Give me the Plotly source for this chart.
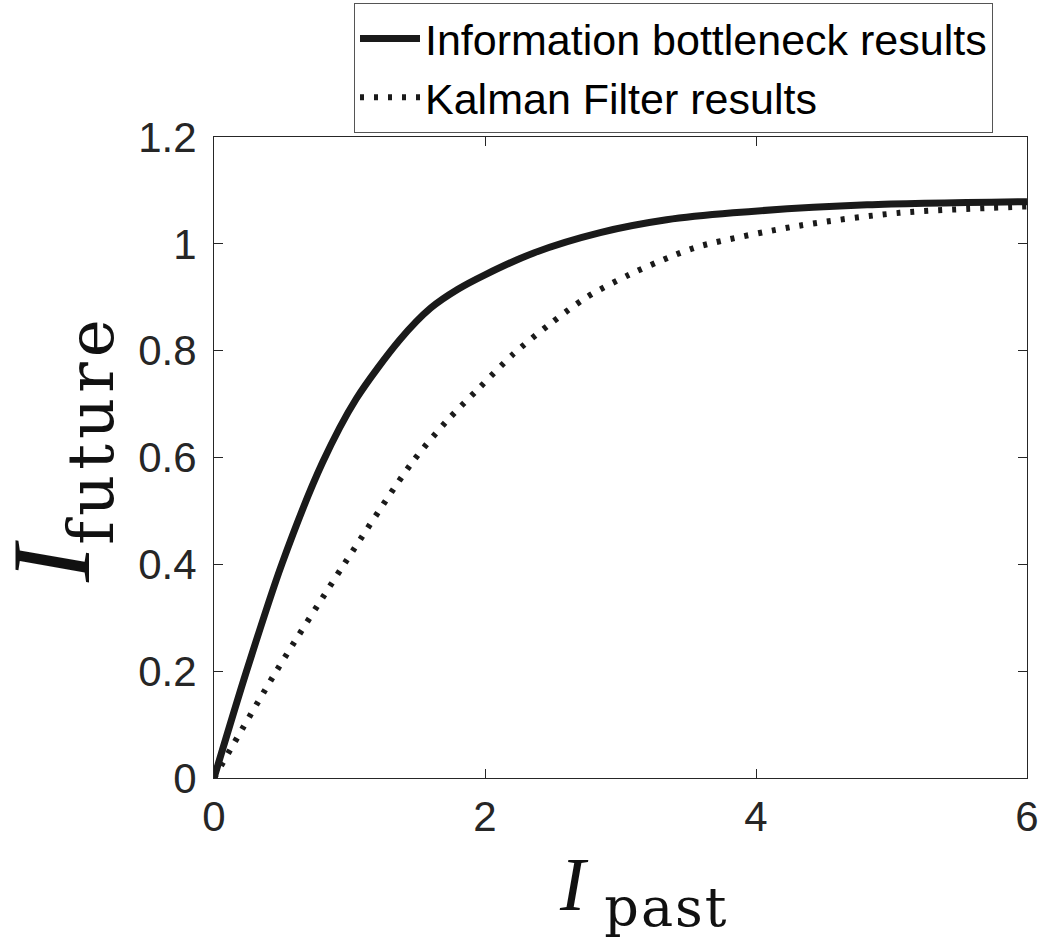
import plotly.graph_objects as go

# Information bottleneck curve: I_future as a function of I_past
ib_past = [0, 0.24, 0.50, 0.80, 1.05, 1.37, 1.60, 1.80, 2.00, 2.36, 2.85, 3.34, 3.83, 4.82, 6.0]
ib_future = [0, 0.20, 0.40, 0.59, 0.71, 0.82, 0.88, 0.915, 0.942, 0.983, 1.021, 1.045, 1.058, 1.073, 1.079]

# Kalman filter curve
kf_past = [0, 0.46, 0.96, 1.46, 1.72, 1.96, 2.21, 2.48, 2.75, 3.07, 3.39, 3.59, 4.32, 5.06, 6.0]
kf_future = [0, 0.20, 0.40, 0.59, 0.669, 0.731, 0.794, 0.850, 0.900, 0.943, 0.978, 0.996, 1.034, 1.058, 1.070]

x_ticks = [0, 2, 4, 6]
y_ticks = [0, 0.2, 0.4, 0.6, 0.8, 1.0, 1.2]
y_tick_text = ["0", "0.2", "0.4", "0.6", "0.8", "1", "1.2"]

ink = "#262626"
sans = "Liberation Sans, Arial, sans-serif"
serif = "Liberation Serif, Times New Roman, serif"

fig = go.Figure()
fig.add_trace(go.Scatter(
    x=ib_past, y=ib_future, mode="lines",
    name="Information bottleneck results",
    line=dict(color="#1a1a1a", width=7, shape="spline", smoothing=0.8),
))
fig.add_trace(go.Scatter(
    x=kf_past, y=kf_future, mode="lines",
    name="Kalman Filter results",
    line=dict(color="#1a1a1a", width=6, dash="4px,10px", shape="spline", smoothing=0.8),
))

axis_common = dict(
    showgrid=False, zeroline=False,
    showline=True, linecolor=ink, linewidth=1,
    mirror="ticks", ticks="inside", ticklen=9, tickwidth=1, tickcolor=ink,
    tickfont=dict(family=sans, size=42, color=ink),
)

fig.update_xaxes(range=[0, 6], tickvals=x_ticks, ticktext=[str(v) for v in x_ticks],
                 ticklabelstandoff=2, **axis_common)
fig.update_yaxes(range=[0, 1.2], tickvals=y_ticks, ticktext=y_tick_text,
                 ticklabelstandoff=8, **axis_common)

# Axis titles in math style: italic I with upright subscript
fig.add_annotation(
    text=("<i>I</i> <sub><span style='font-family:DejaVu Serif;font-size:54px;"
          "letter-spacing:2px'>past</span></sub>"),
    xref="paper", yref="paper", x=(644 - 214) / 813, y=(778 - 890) / 641,
    xanchor="center", yanchor="middle", showarrow=False,
    font=dict(family=serif, size=76, color="#111111"),
)
fig.add_annotation(
    text=("<i>I</i><sub><span style='font-family:DejaVu Serif;font-size:64px;"
          "letter-spacing:5px'>future</span></sub>"),
    xref="paper", yref="paper", x=(58 - 214) / 813, y=(778 - 449) / 641,
    xanchor="center", yanchor="middle", showarrow=False, textangle=-90,
    font=dict(family=serif, size=112, color="#111111"),
)

fig.update_layout(
    width=1042, height=941,
    margin=dict(l=214, r=15, t=137, b=163, autoexpand=False),
    paper_bgcolor="white", plot_bgcolor="white",
    showlegend=True,
    legend=dict(
        x=(354 - 214) / 813, y=(778 - 3) / 641, xanchor="left", yanchor="top",
        bgcolor="white", bordercolor="#555555", borderwidth=1,
        font=dict(family=sans, size=43, color="#000000"),
        itemwidth=60, tracegroupgap=0,
    ),
)

fig.write_html("out.html")
